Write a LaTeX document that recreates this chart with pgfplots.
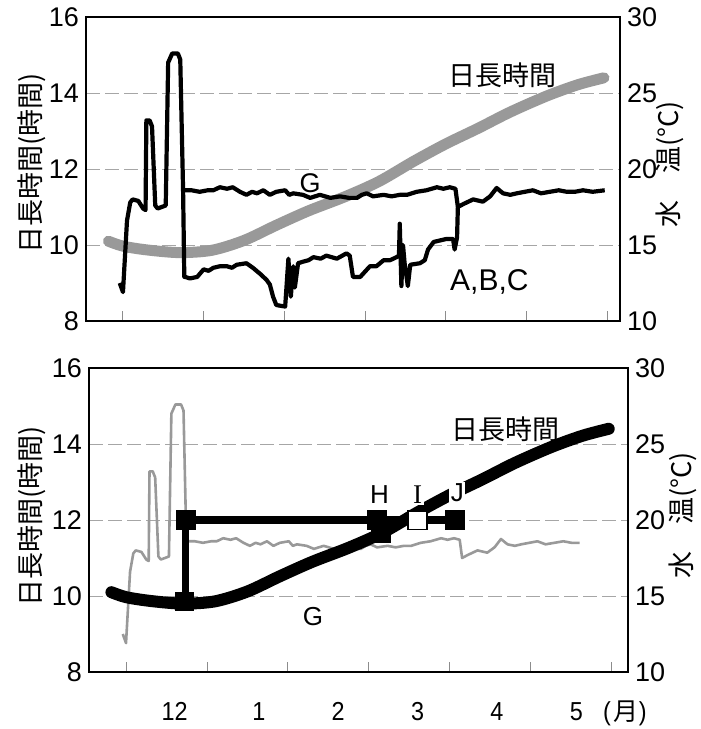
\documentclass[border=0pt]{standalone}
\usepackage{fontspec}
\usepackage{pgfplots}
\pgfplotsset{compat=1.18}
\usepackage{pgfplotstable}
\setmainfont{Liberation Sans}
\newfontfamily\jp{Noto Sans CJK JP}
\newfontfamily\narrow{Liberation Sans}[FakeStretch=0.9]
\newfontfamily\serifI{Liberation Serif}
\newcommand\xl[1]{\mbox{\narrow\fontsize{13}{14}\selectfont #1}}

% day length (hours); x = months, 0 = start of Dec
\pgfplotstableread{
x h
-0.18 10.10
0.00 9.97
0.30 9.87
0.70 9.80
1.10 9.86
1.50 10.12
1.90 10.52
2.30 10.90
2.75 11.27
3.17 11.67
3.60 12.20
4.00 12.66
4.40 13.07
4.80 13.50
5.25 13.92
5.64 14.22
5.96 14.40
}\daylen

% water temperature, common part + G
\pgfplotstableread{
x t
-0.04 12.5
0.00 11.9
0.05 16.6
0.09 17.8
0.12 18.0
0.19 17.9
0.25 17.4
0.28 17.3
0.29 23.2
0.33 23.2
0.36 22.8
0.40 17.6
0.43 17.4
0.53 17.6
0.56 27.0
0.61 27.6
0.68 27.6
0.71 27.2
0.745 18.6
0.77 18.6
0.85 18.6
0.95 18.5
1.05 18.6
1.12 18.6
1.20 18.8
1.29 18.7
1.36 18.8
1.45 18.5
1.53 18.3
1.60 18.5
1.66 18.4
1.74 18.6
1.82 18.3
1.90 18.5
2.01 18.6
2.06 18.3
2.11 18.4
2.23 18.3
2.32 18.1
2.44 18.3
2.57 18.1
2.69 18.2
2.80 18.1
2.90 18.1
2.96 18.3
3.02 18.4
3.10 18.2
3.23 18.3
3.33 18.2
3.43 18.3
3.52 18.3
3.64 18.5
3.76 18.6
3.89 18.8
3.97 18.7
4.05 18.8
4.12 18.7
4.15 17.5
4.22 17.7
4.34 18.0
4.46 17.85
4.55 18.2
4.63 18.75
4.71 18.4
4.80 18.3
4.88 18.4
4.98 18.5
5.08 18.6
5.18 18.4
5.29 18.5
5.40 18.6
5.50 18.5
5.60 18.5
5.70 18.6
5.82 18.5
5.97 18.6
}\tempG

% water temperature A,B,C
\pgfplotstableread{
x t
0.745 18.6
0.76 12.9
0.77 12.9
0.83 12.8
0.92 12.9
1.00 13.4
1.06 13.3
1.12 13.5
1.20 13.6
1.29 13.6
1.35 13.5
1.41 13.7
1.53 13.8
1.61 13.5
1.70 13.1
1.78 12.7
1.82 12.4
1.86 11.6
1.90 11.05
2.01 10.95
2.05 14.1
2.08 11.6
2.11 13.6
2.13 12.2
2.17 13.8
2.23 13.9
2.30 14.0
2.36 14.2
2.45 14.1
2.52 14.3
2.65 14.1
2.77 14.45
2.81 14.3
2.85 12.9
2.94 12.9
3.06 13.6
3.14 13.6
3.23 14.0
3.31 14.0
3.39 14.2
3.42 14.3
3.43 16.4
3.45 12.3
3.47 15.0
3.49 13.8
3.53 12.3
3.56 13.7
3.68 13.8
3.74 14.0
3.78 14.7
3.85 15.2
3.93 15.3
4.01 15.4
4.09 15.4
4.11 14.7
4.14 15.5
4.15 17.5
}\tempABC

\pgfplotsset{
  panel/.style={scale only axis, width=267pt, height=152pt,
    xmin=-0.458, xmax=6.159,
    /pgf/number format/assume math mode=true,
    tick label style={font=\fontsize{13.5}{14}\selectfont},
    ytick style={draw=none},
    xtick={0,...,6}, xticklabels={}, xtick pos=left, xtick align=inside,
    major tick length=5pt,
    xtick style={black!45, line width=0.5pt},
    label style={font=\fontsize{13.5}{14}\selectfont},
  },
  grids/.style={ymajorgrids,
    major y grid style={black!35, dash pattern=on 7pt off 2.5pt, line width=0.5pt}},
  frame/.style={axis line style={line width=1.1pt}},
  overlay/.style={axis x line=none, y axis line style={draw=none}},
}

\begin{document}
\begin{tikzpicture}
\useasboundingbox (0,0) rectangle (350.5pt,364.5pt);

% ---------- top panel ----------
\begin{axis}[panel, frame, grids,
  at={(43pt,204pt)}, anchor=south west,
  ymin=8, ymax=16, ytick={8,10,...,16},
  ylabel={\jp 日長時間(時間)},
  ylabel style={at={(axis description cs:-0.101,0.518)}, anchor=center},
]
\addplot[black!40, line width=5.5pt, smooth, line cap=round] table[x=x, y=h] {\daylen};
\node[font=\jp\fontsize{13.5}{14}\selectfont] at (axis cs:4.70,14.47) {日長時間};
\node[font=\fontsize{13.5}{13}\selectfont] at (axis cs:2.32,11.63) {G};
\node[font=\fontsize{15}{15}\selectfont] at (axis cs:4.54,9.03) {A,B,C};
\end{axis}

\begin{axis}[panel, overlay,
  at={(43pt,204pt)}, anchor=south west,
  axis y line*=right,
  ymin=10, ymax=30, ytick={10,15,...,30},
  ylabel={\jp 水　温(°C)},
  ylabel style={at={(axis description cs:1.094,0.515)}, anchor=center},
]
\addplot[black, line width=2.1pt, line join=round] table[x=x, y=t] {\tempG};
\addplot[black, line width=2.1pt, line join=round] table[x=x, y=t] {\tempABC};
\end{axis}

% ---------- bottom panel ----------
\begin{axis}[panel, frame, grids,
  at={(44.5pt,28.5pt)}, anchor=south west, width=269.5pt,
  xmin=-0.457, xmax=6.198,
  ymin=10, ymax=30, ytick={10,15,...,30},
  yticklabel pos=right,
  ylabel={\jp 水　温(°C)},
  ylabel style={at={(axis description cs:1.102,0.516)}, anchor=center},
  extra x ticks={0.60,1.64,2.62,3.6,4.58,5.56,6.16},
  extra x tick labels={\xl{12},\xl{1},\xl{2},\xl{3},\xl{4},\xl{5},\xl{(\hspace{1.5pt}{\jp\fontsize{12.5}{13}\selectfont 月})}},
  extra x tick style={major tick length=0pt,
    tick label style={anchor=base, inner sep=0pt, yshift=-24pt}},
]
\addplot[black!40, line width=1.3pt, line join=round, restrict x to domain=-1:5.6]
  table[x=x, y=t] {\tempG};
\end{axis}

\begin{axis}[panel, overlay,
  at={(44.5pt,28.5pt)}, anchor=south west, width=269.5pt,
  xmin=-0.457, xmax=6.198,
  axis y line*=left,
  ymin=8, ymax=16, ytick={8,10,...,16},
  ylabel={\jp 日長時間(時間)},
  ylabel style={at={(axis description cs:-0.106,0.513)}, anchor=center},
]
\addplot[black, line width=6pt, smooth, line cap=round] table[x=x, y=h] {\daylen};
\addplot[black, line width=4pt] coordinates {(0.73,12) (4.06,12)};
\addplot[black, line width=3.5pt] coordinates {(0.73,12) (0.73,9.86)};
\addplot[only marks, mark=square*, mark size=4.7pt, black]
  coordinates {(0.74,12) (0.72,9.86) (3.10,12) (3.15,11.65) (4.06,12)};
\addplot[only marks, mark=square*, mark size=4.7pt, mark options={draw=black, fill=white, line width=0.9pt}]
  coordinates {(3.60,12)};
\node[font=\jp\fontsize{13.5}{14}\selectfont] at (axis cs:4.69,14.38) {日長時間};
\node[font=\fontsize{13}{13}\selectfont] at (axis cs:2.31,9.46) {G};
\node[font=\fontsize{13}{13}\selectfont, fill=white, inner sep=0.8pt] at (axis cs:3.13,12.68) {H};
\node[font=\serifI\fontsize{13.5}{13}\selectfont, fill=white, inner sep=0.8pt] at (axis cs:3.60,12.68) {I};
\node[font=\fontsize{13}{13}\selectfont, fill=white, inner sep=0.8pt] at (axis cs:4.09,12.73) {J};
\end{axis}
\end{tikzpicture}
\end{document}
